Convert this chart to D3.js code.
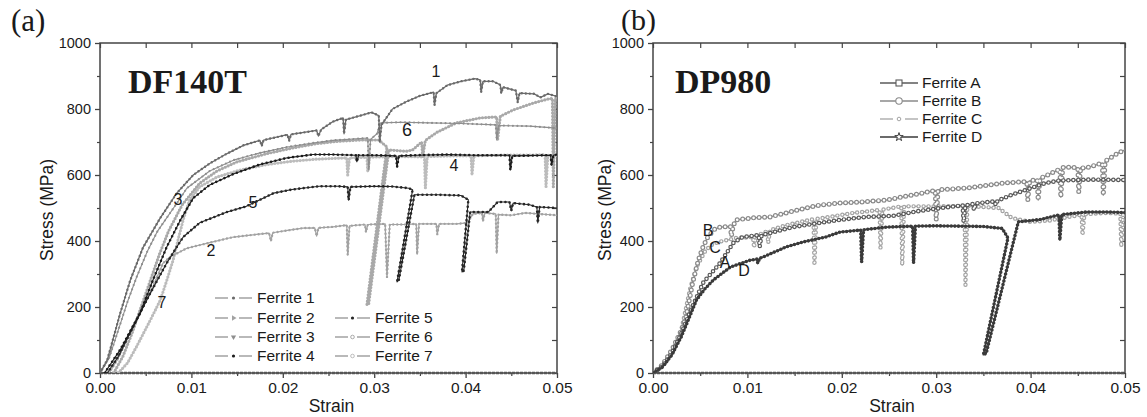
<!DOCTYPE html>
<html>
<head>
<meta charset="utf-8">
<script src="https://cdn.jsdelivr.net/npm/d3@7"></script>
<style>
  html, body { margin: 0; padding: 0; background: #fff; }
  svg { display: block; }
  text { font-family: "Liberation Sans", Arial, sans-serif; fill: #1a1a1a; }
  text.serif { font-family: "Liberation Serif", "Times New Roman", serif; }
</style>
</head>
<body>
<svg id="fig" width="1147" height="417"></svg>
<script>
// ---------- axes ----------
const strainTicks = [0, 0.01, 0.02, 0.03, 0.04, 0.05];
const strainTickLabels = ["0.00", "0.01", "0.02", "0.03", "0.04", "0.05"];
const strainMinor = [0.005, 0.015, 0.025, 0.035, 0.045];
const stressTicks = [0, 200, 400, 600, 800, 1000];
const stressMinor = [100, 300, 500, 700, 900];

// ---------- DF140T : [strain, stress MPa] ----------
const ferrite1 = [[0,0],[0.0008,40],[0.0022,180],[0.0033,280],[0.0047,380],[0.0066,470],[0.0084,545],[0.0102,600],[0.012,635],[0.0139,665],[0.0157,690],[0.0175,705],[0.0177,688],[0.0179,706],[0.0205,722],[0.0207,704],[0.0209,723],[0.0237,735],[0.0239,718],[0.0242,738],[0.0255,762],[0.0266,773],[0.0267,725],[0.0269,768],[0.0285,780],[0.0297,790],[0.0305,780],[0.0306,700],[0.0308,752],[0.032,800],[0.0335,822],[0.035,840],[0.0365,851],[0.0366,812],[0.0368,848],[0.038,872],[0.0395,884],[0.041,892],[0.0416,888],[0.0417,851],[0.0419,884],[0.043,884],[0.0438,873],[0.0439,848],[0.0441,866],[0.0455,856],[0.0457,820],[0.0459,848],[0.0475,846],[0.0482,835],[0.049,846],[0.05,838]];
const ferrite2 = [[0.001,0],[0.0019,40],[0.0036,140],[0.0055,242],[0.0069,333],[0.0077,352],[0.0095,378],[0.012,395],[0.0146,412],[0.0165,418],[0.0185,424],[0.0187,400],[0.0189,425],[0.0205,432],[0.0222,439],[0.0235,440],[0.0237,415],[0.0239,440],[0.0255,443],[0.027,448],[0.0271,358],[0.0273,446],[0.029,450],[0.0291,427],[0.0293,450],[0.0312,452],[0.0314,290],[0.0317,450],[0.0332,450],[0.0346,452],[0.0347,360],[0.0349,452],[0.0368,452],[0.0369,420],[0.0371,452],[0.039,452],[0.0402,455],[0.0408,482],[0.0418,485],[0.0419,460],[0.0421,485],[0.0433,482],[0.0434,363],[0.0436,480],[0.045,478],[0.0465,485],[0.048,482],[0.05,478]];
const ferrite3 = [[0,0],[0.001,45],[0.002,130],[0.003,215],[0.004,290],[0.0052,370],[0.0063,430],[0.0073,470],[0.0085,518],[0.0095,560],[0.012,612],[0.0146,645],[0.0175,667],[0.0205,685],[0.0233,697],[0.0255,705],[0.0293,712],[0.0294,615],[0.0296,708],[0.0303,725],[0.0307,758],[0.033,760],[0.036,758],[0.0395,756],[0.0433,752],[0.0434,706],[0.0436,750],[0.047,748],[0.05,742]];
const ferrite4 = [[0.0005,0],[0.0022,70],[0.0044,182],[0.0058,282],[0.0073,382],[0.0088,464],[0.0102,530],[0.012,570],[0.0146,603],[0.0175,632],[0.0205,652],[0.0233,662],[0.0255,662],[0.028,660],[0.0281,640],[0.0283,660],[0.03,660],[0.0324,658],[0.0325,624],[0.0327,658],[0.0345,660],[0.038,662],[0.041,660],[0.0448,660],[0.0449,615],[0.0451,658],[0.0493,660],[0.0494,630],[0.0496,660],[0.05,662]];
const ferrite5 = [[0.0008,0],[0.002,50],[0.0036,139],[0.0055,242],[0.0073,333],[0.0084,382],[0.0091,412],[0.0109,455],[0.0139,488],[0.016,505],[0.019,545],[0.021,556],[0.024,566],[0.026,566],[0.0271,564],[0.0272,524],[0.0274,564],[0.03,566],[0.032,565],[0.0338,560],[0.0342,555],[0.0325,276],[0.0327,282],[0.0344,540],[0.037,540],[0.0395,538],[0.0403,525],[0.0396,306],[0.0398,310],[0.0405,488],[0.0425,488],[0.0435,518],[0.0448,518],[0.045,492],[0.0452,515],[0.047,510],[0.0478,503],[0.0479,455],[0.0481,503],[0.05,500]];
const ferrite6 = [[0.0015,0],[0.0025,50],[0.0035,120],[0.0045,200],[0.0055,280],[0.0065,360],[0.0075,430],[0.009,510],[0.0109,575],[0.0128,612],[0.015,640],[0.0183,665],[0.0211,682],[0.0237,695],[0.026,702],[0.0285,706],[0.0305,706],[0.0314,685],[0.0292,206],[0.0294,210],[0.0316,676],[0.0335,672],[0.0342,676],[0.0352,700],[0.0353,655],[0.0356,705],[0.0369,730],[0.039,758],[0.0416,773],[0.0434,776],[0.0435,706],[0.0438,778],[0.0452,797],[0.0474,818],[0.049,830],[0.0495,832],[0.0496,564],[0.0498,832],[0.05,836]];
const ferrite7 = [[0.002,0],[0.003,30],[0.004,80],[0.0055,160],[0.0066,221],[0.0073,280],[0.008,342],[0.0086,410],[0.0091,464],[0.0098,524],[0.0109,564],[0.0128,594],[0.0153,615],[0.0183,632],[0.0211,642],[0.0237,648],[0.027,652],[0.0271,600],[0.0273,652],[0.0292,654],[0.0293,610],[0.0295,654],[0.032,656],[0.0355,655],[0.0356,560],[0.0358,656],[0.0385,658],[0.0406,658],[0.0407,600],[0.0409,658],[0.044,660],[0.0468,660],[0.0487,662],[0.0488,564],[0.049,660],[0.05,658]];

// ---------- DP980 : [strain, stress MPa] ----------
const ferriteA = [[0,0],[0.001,20],[0.002,60],[0.003,120],[0.004,190],[0.0053,273],[0.0071,333],[0.0085,394],[0.0095,412],[0.0112,418],[0.0113,382],[0.0115,418],[0.0124,424],[0.0148,442],[0.0177,455],[0.0198,464],[0.0226,473],[0.0254,476],[0.028,490],[0.0305,500],[0.0328,508],[0.0329,458],[0.0331,508],[0.0339,512],[0.034,494],[0.0342,514],[0.0362,520],[0.0363,509],[0.0365,522],[0.038,540],[0.04,560],[0.0415,575],[0.043,583],[0.046,586],[0.05,585]];
const ferriteB = [[0,0],[0.001,25],[0.002,70],[0.003,130],[0.0035,170],[0.0042,273],[0.0048,342],[0.0053,382],[0.0058,412],[0.0065,435],[0.0071,442],[0.0082,444],[0.0083,415],[0.0085,446],[0.0088,464],[0.0106,470],[0.0124,473],[0.0141,485],[0.0162,500],[0.0177,509],[0.0198,515],[0.0219,518],[0.0247,524],[0.0274,539],[0.0299,553],[0.03,464],[0.0302,555],[0.0334,561],[0.0373,576],[0.0396,580],[0.0397,524],[0.0399,582],[0.0407,586],[0.0408,524],[0.041,590],[0.0415,596],[0.0431,618],[0.0432,533],[0.0434,622],[0.0436,624],[0.045,622],[0.0451,548],[0.0453,622],[0.0458,621],[0.0476,636],[0.0477,539],[0.0479,642],[0.0493,667],[0.05,676]];
const ferriteC = [[0,0],[0.001,22],[0.002,60],[0.003,130],[0.0039,252],[0.0046,321],[0.0056,373],[0.0063,390],[0.0071,398],[0.0088,409],[0.0106,412],[0.0107,380],[0.0109,415],[0.0121,430],[0.0122,394],[0.0124,433],[0.0141,448],[0.0166,464],[0.017,466],[0.0171,327],[0.0173,467],[0.0187,473],[0.0212,485],[0.024,494],[0.0241,379],[0.0243,495],[0.0263,505],[0.0264,327],[0.0266,505],[0.03,505],[0.033,506],[0.0331,267],[0.0333,506],[0.0366,500],[0.038,470],[0.04,458],[0.042,462],[0.0454,480],[0.0455,418],[0.0457,481],[0.048,485],[0.0495,483],[0.0496,382],[0.0498,483],[0.05,482]];
const ferriteD = [[0,0],[0.001,18],[0.002,55],[0.003,110],[0.0038,165],[0.0046,221],[0.0055,255],[0.0064,282],[0.0082,321],[0.0103,342],[0.011,345],[0.0111,333],[0.0113,348],[0.0117,352],[0.0141,382],[0.0159,397],[0.0183,412],[0.0198,427],[0.022,433],[0.0221,336],[0.0223,434],[0.0247,442],[0.0275,445],[0.0276,333],[0.0278,445],[0.03,446],[0.035,444],[0.037,438],[0.0376,409],[0.035,55],[0.0353,60],[0.0387,458],[0.041,465],[0.043,479],[0.0431,403],[0.0433,480],[0.046,488],[0.048,488],[0.05,486]];

// ---------- text ----------
const leftSeriesNames = ["Ferrite 1","Ferrite 2","Ferrite 3","Ferrite 4","Ferrite 5","Ferrite 6","Ferrite 7"];
const rightSeriesNames = ["Ferrite A","Ferrite B","Ferrite C","Ferrite D"];
const leftCurveTags = ["1","2","3","4","5","6","7"];
const rightCurveTags = ["A","B","C","D"];

const svg = d3.select("#fig");

// series appearance
const leftStyles = {
  "Ferrite 1": {color:"#6a6a6a", width:1.3, mark:2.4, gap:4,   sym:"dot"},
  "Ferrite 2": {color:"#a2a2a2", width:1.2, mark:2.4, gap:4,   sym:"tri-r"},
  "Ferrite 3": {color:"#8e8e8e", width:1.1, mark:2.2, gap:4.5, sym:"tri-d"},
  "Ferrite 4": {color:"#1c1c1c", width:1.1, mark:2.6, gap:4.5, sym:"dot"},
  "Ferrite 5": {color:"#262626", width:1.1, mark:2.6, gap:4.5, sym:"dot"},
  "Ferrite 6": {color:"#a9a9a9", width:1.2, mark:3.2, gap:3.2, sym:"circ"},
  "Ferrite 7": {color:"#bcbcbc", width:1.2, mark:3.2, gap:3.2, sym:"circ"}
};
const rightStyles = {
  "Ferrite A": {color:"#5a5a5a", width:1.3, mark:4.6, gap:5,   hollow:true, sym:"square"},
  "Ferrite B": {color:"#8a8a8a", width:1.3, mark:5,   gap:5.5, hollow:true, sym:"circle"},
  "Ferrite C": {color:"#a4a4a4", width:1.3, mark:4.4, gap:5,   hollow:true, dash:"7 3", sym:"small"},
  "Ferrite D": {color:"#3a3a3a", width:1.5, mark:3.6, gap:3.6, sym:"star"}
};

function panel(x0, x1, y0, y1) {
  const sx = d3.scaleLinear().domain([0, 0.05]).range([x0, x1]);
  const sy = d3.scaleLinear().domain([0, 1000]).range([y1, y0]);
  return {sx, sy, x0, x1, y0, y1};
}

function drawFrame(p, clipId) {
  const g = svg.append("g");
  const ax = "#444";
  // bottom axis (ticks outward)
  g.append("g").attr("transform", `translate(0,${p.y1})`)
    .call(d3.axisBottom(p.sx).tickValues(strainTicks).tickSize(5).tickFormat((d,i)=>strainTickLabels[i]))
    .call(a => { a.select(".domain").remove();
      a.selectAll("line").attr("stroke", ax).attr("stroke-width", 1.3);
      a.selectAll("text").attr("font-size", 15.5).attr("y", 9).attr("dy", "0.71em").attr("fill", "#1a1a1a"); });
  g.append("g").attr("transform", `translate(0,${p.y1})`)
    .call(d3.axisBottom(p.sx).tickValues(strainMinor).tickSize(3).tickFormat(""))
    .call(a => { a.select(".domain").remove(); a.selectAll("line").attr("stroke", ax).attr("stroke-width", 1.2); });
  // top axis (ticks inward)
  g.append("g").attr("transform", `translate(0,${p.y0})`)
    .call(d3.axisBottom(p.sx).tickValues(strainTicks.concat(strainMinor)).tickSize(5).tickFormat(""))
    .call(a => { a.select(".domain").remove(); a.selectAll("line").attr("stroke", ax).attr("stroke-width", 1.2); });
  // left axis (ticks outward)
  g.append("g").attr("transform", `translate(${p.x0},0)`)
    .call(d3.axisLeft(p.sy).tickValues(stressTicks).tickSize(5).tickFormat(d3.format("d")))
    .call(a => { a.select(".domain").remove();
      a.selectAll("line").attr("stroke", ax).attr("stroke-width", 1.3);
      a.selectAll("text").attr("font-size", 14.5).attr("x", -9).attr("fill", "#1a1a1a"); });
  g.append("g").attr("transform", `translate(${p.x0},0)`)
    .call(d3.axisLeft(p.sy).tickValues(stressMinor).tickSize(3).tickFormat(""))
    .call(a => { a.select(".domain").remove(); a.selectAll("line").attr("stroke", ax).attr("stroke-width", 1.2); });
  // right axis (ticks inward)
  g.append("g").attr("transform", `translate(${p.x1},0)`)
    .call(d3.axisRight(p.sy).tickValues(stressTicks.concat(stressMinor)).tickSize(-5).tickFormat(""))
    .call(a => { a.select(".domain").remove(); a.selectAll("line").attr("stroke", ax).attr("stroke-width", 1.2); });
  // frame
  g.append("rect").attr("x", p.x0).attr("y", p.y0).attr("width", p.x1 - p.x0).attr("height", p.y1 - p.y0)
    .attr("fill", "none").attr("stroke", ax).attr("stroke-width", 1.5);
  g.append("line").attr("x1", p.x0).attr("x2", p.x1).attr("y1", p.y1).attr("y2", p.y1)
    .attr("stroke", "#555").attr("stroke-width", 2.4).attr("stroke-dasharray", "3 1");

  svg.append("clipPath").attr("id", clipId).append("rect")
    .attr("x", p.x0).attr("y", p.y0).attr("width", p.x1 - p.x0).attr("height", p.y1 - p.y0);
}

function drawCurve(g, p, pts, st) {
  const line = d3.line().x(d => p.sx(d[0])).y(d => p.sy(d[1]));
  const d = line(pts);
  g.append("path").attr("d", d).attr("fill", "none").attr("stroke", st.color)
    .attr("stroke-width", st.width).attr("stroke-linejoin", "round")
    .attr("stroke-dasharray", st.dash || null);
  // symbols strung along the trace
  g.append("path").attr("d", d).attr("fill", "none").attr("stroke", st.color)
    .attr("stroke-width", st.mark).attr("stroke-linecap", "round")
    .attr("stroke-dasharray", `0 ${st.gap}`);
  if (st.hollow) {
    g.append("path").attr("d", d).attr("fill", "none").attr("stroke", "#fff")
      .attr("stroke-width", st.mark - 2.4).attr("stroke-linecap", "round")
      .attr("stroke-dasharray", `0 ${st.gap}`);
  }
}

function axisTitles(p, yx) {
  svg.append("text").attr("x", (p.x0 + p.x1) / 2 + 3).attr("y", 412).attr("text-anchor", "middle")
    .attr("font-size", 17.5).text("Strain");
  svg.append("text").attr("transform", `translate(${yx},${(p.y0 + p.y1) / 2 + 2}) rotate(-90)`)
    .attr("text-anchor", "middle").attr("font-size", 17.5).text("Stress (MPa)");
}

// ================= (a) DF140T =================
const pa = panel(100, 557, 43, 373);
drawFrame(pa, "clipA");
const ga = svg.append("g").attr("clip-path", "url(#clipA)");
const leftData = {"Ferrite 1":ferrite1,"Ferrite 2":ferrite2,"Ferrite 3":ferrite3,"Ferrite 4":ferrite4,
                  "Ferrite 5":ferrite5,"Ferrite 6":ferrite6,"Ferrite 7":ferrite7};
["Ferrite 7","Ferrite 6","Ferrite 2","Ferrite 3","Ferrite 1","Ferrite 5","Ferrite 4"]
  .forEach(n => drawCurve(ga, pa, leftData[n], leftStyles[n]));
axisTitles(pa, 53);

svg.append("text").attr("class", "serif").attr("x", 11).attr("y", 31).attr("font-size", 31).text("(a)");
svg.append("text").attr("class", "serif").attr("x", 128).attr("y", 93)
  .attr("font-weight", "bold").attr("font-size", 34).text("DF140T");

// curve tags
const leftTagPos = [[436,77],[211,256],[178,205],[454,171],[253,208],[407,136],[162,308]];
leftCurveTags.forEach((t, i) => {
  svg.append("text").attr("x", leftTagPos[i][0]).attr("y", leftTagPos[i][1]).attr("text-anchor", "middle")
    .attr("font-size", i === 5 ? 18 : 16).text(t);
});

// legend
function legendSymbol(g, cx, cy, sym, color) {
  if (sym === "dot") g.append("circle").attr("cx", cx).attr("cy", cy).attr("r", 1.6).attr("fill", color);
  else if (sym === "circ") g.append("circle").attr("cx", cx).attr("cy", cy).attr("r", 1.8).attr("fill", "#fff").attr("stroke", color).attr("stroke-width", 1);
  else if (sym === "tri-r") g.append("path").attr("transform", `translate(${cx},${cy}) rotate(90)`).attr("d", d3.symbol(d3.symbolTriangle, 12)).attr("fill", color);
  else if (sym === "tri-d") g.append("path").attr("transform", `translate(${cx},${cy}) rotate(180)`).attr("d", d3.symbol(d3.symbolTriangle, 12)).attr("fill", color);
}
const leftLegendPos = [[215,298],[215,318],[215,337],[215,356],[335,318],[335,337],[335,356]];
leftSeriesNames.forEach((n, i) => {
  const [lx, ly] = leftLegendPos[i];
  const st = leftStyles[n];
  const g = svg.append("g");
  const w = i < 4 ? 37 : 35;
  g.append("line").attr("x1", lx).attr("x2", lx + 13).attr("y1", ly).attr("y2", ly).attr("stroke", "#8a8a8a").attr("stroke-width", 1.2);
  g.append("line").attr("x1", lx + w - 13).attr("x2", lx + w).attr("y1", ly).attr("y2", ly).attr("stroke", "#8a8a8a").attr("stroke-width", 1.2);
  legendSymbol(g, lx + w / 2, ly, st.sym, st.color);
  g.append("text").attr("x", lx + w + 5).attr("y", ly).attr("dy", "0.35em").attr("font-size", 15.5).text(n);
});

// ================= (b) DP980 =================
const pb = panel(653, 1125, 43, 373);
drawFrame(pb, "clipB");
const gb = svg.append("g").attr("clip-path", "url(#clipB)");
const rightData = {"Ferrite A":ferriteA,"Ferrite B":ferriteB,"Ferrite C":ferriteC,"Ferrite D":ferriteD};
["Ferrite C","Ferrite B","Ferrite A","Ferrite D"].forEach(n => drawCurve(gb, pb, rightData[n], rightStyles[n]));
axisTitles(pb, 611);

svg.append("text").attr("class", "serif").attr("x", 621).attr("y", 30).attr("font-size", 30).text("(b)");
svg.append("text").attr("class", "serif").attr("x", 675).attr("y", 93)
  .attr("font-weight", "bold").attr("font-size", 34).text("DP980");

const rightTagPos = [[725,268],[708,236],[715,253],[744,276]];
rightCurveTags.forEach((t, i) => {
  svg.append("text").attr("x", rightTagPos[i][0]).attr("y", rightTagPos[i][1]).attr("text-anchor", "middle")
    .attr("font-size", 16).text(t);
});

const rightLegendY = [83, 101, 119, 137];
rightSeriesNames.forEach((n, i) => {
  const st = rightStyles[n];
  const ly = rightLegendY[i], lx = 880, w = 38;
  const g = svg.append("g");
  if (st.dash) {
    g.append("line").attr("x1", lx).attr("x2", lx + 13).attr("y1", ly).attr("y2", ly).attr("stroke", st.color).attr("stroke-width", 1.3);
    g.append("line").attr("x1", lx + w - 13).attr("x2", lx + w).attr("y1", ly).attr("y2", ly).attr("stroke", st.color).attr("stroke-width", 1.3);
  } else {
    g.append("line").attr("x1", lx).attr("x2", lx + w).attr("y1", ly).attr("y2", ly).attr("stroke", st.color).attr("stroke-width", 1.3);
  }
  const cx = lx + w / 2;
  if (st.sym === "square") g.append("rect").attr("x", cx - 3).attr("y", ly - 3).attr("width", 6).attr("height", 6).attr("fill", "#fff").attr("stroke", st.color).attr("stroke-width", 1.1);
  else if (st.sym === "circle") g.append("circle").attr("cx", cx).attr("cy", ly).attr("r", 3.2).attr("fill", "#fff").attr("stroke", st.color).attr("stroke-width", 1.1);
  else if (st.sym === "small") g.append("circle").attr("cx", cx).attr("cy", ly).attr("r", 1.8).attr("fill", "#fff").attr("stroke", st.color).attr("stroke-width", 1);
  else if (st.sym === "star") g.append("path").attr("transform", `translate(${cx},${ly})`).attr("d", d3.symbol(d3.symbolStar, 22)).attr("fill", "#fff").attr("stroke", st.color).attr("stroke-width", 1);
  g.append("text").attr("x", lx + w + 4).attr("y", ly).attr("dy", "0.35em").attr("font-size", 15.5).text(n);
});
</script>
</body>
</html>
